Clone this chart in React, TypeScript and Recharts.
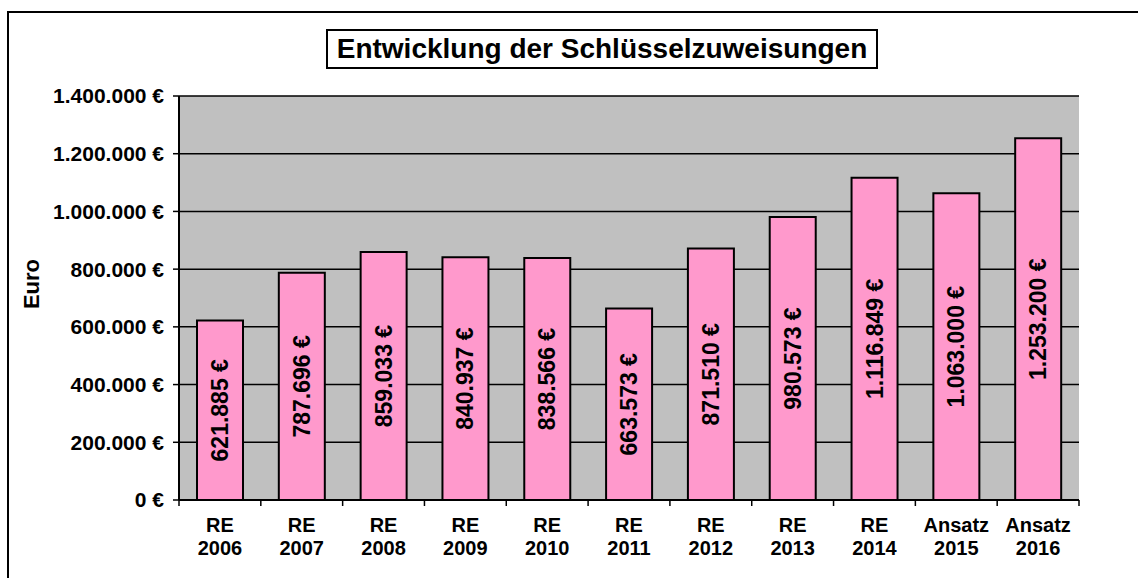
import React from "react";
import { BarChart, Bar, XAxis, YAxis, CartesianGrid, LabelList } from "recharts";

const categories = ["RE 2006", "RE 2007", "RE 2008", "RE 2009", "RE 2010", "RE 2011", "RE 2012", "RE 2013", "RE 2014", "Ansatz 2015", "Ansatz 2016"];
const values = [621885, 787696, 859033, 840937, 838566, 663573, 871510, 980573, 1116849, 1063000, 1253200];
const yTicks = [0, 200000, 400000, 600000, 800000, 1000000, 1200000, 1400000];

const data = categories.map((c, i) => ({ name: c, value: values[i] }));

const FONT = "Arial, 'Liberation Sans', sans-serif";

// 1253200 -> "1.253.200 €"
const euro = (v: number) => String(Math.round(v)).replace(/\B(?=(\d{3})+(?!\d))/g, ".") + " €";

const XTick = (props: any) => {
  const { x, y, payload, index } = props;
  const half = payload?.offset || 900 / 22;
  const [l1, l2] = String(payload.value).split(" ");
  const last = index === categories.length - 1;
  return (
    <g>
      <line x1={x - half} x2={x - half} y1={y} y2={y + 6} stroke="#000" strokeWidth={1.5} />
      {last && <line x1={x + half} x2={x + half} y1={y} y2={y + 6} stroke="#000" strokeWidth={1.5} />}
      <text x={x} y={y + 32} textAnchor="middle" fontFamily={FONT} fontWeight="bold" fontSize={20} fill="#000">{l1}</text>
      <text x={x} y={y + 55} textAnchor="middle" fontFamily={FONT} fontWeight="bold" fontSize={20} fill="#000">{l2}</text>
    </g>
  );
};

// rotated value label in the middle of each bar
const ValueLabel = (props: any) => {
  const { x, y, width, height, value } = props;
  const cx = Number(x) + Number(width) / 2;
  const cy = Number(y) + Number(height) / 2;
  return (
    <text x={cx} y={cy} transform={`rotate(-90 ${cx} ${cy})`} textAnchor="middle" dominantBaseline="central"
      fontFamily={FONT} fontWeight="bold" fontSize={23} fill="#000">{euro(Number(value))}</text>
  );
};

export default function App() {
  return (
    <div style={{ position: "absolute", left: 0, top: 0, width: 1138, height: 578, overflow: "hidden", background: "#fff" }}>
      <div style={{ position: "absolute", left: 7, top: 11, width: 1131, height: 2, background: "#000" }} />
      <div style={{ position: "absolute", left: 7, top: 11, width: 2, height: 567, background: "#000" }} />
      <div style={{
        position: "absolute", left: 326, top: 29, width: 552, height: 40, border: "2px solid #000", boxSizing: "border-box",
        textAlign: "center", lineHeight: "36px", fontFamily: FONT, fontWeight: "bold", fontSize: 28, color: "#000", background: "#fff",
        whiteSpace: "nowrap",
      }}>
        Entwicklung der Schlüsselzuweisungen
      </div>
      <BarChart width={1138} height={578} data={data} margin={{ top: 96, right: 59, left: 0, bottom: 18 }} barCategoryGap="22%">
        <CartesianGrid horizontal vertical={false} stroke="#000" strokeWidth={1.5} fill="#C0C0C0" fillOpacity={1} />
        <XAxis xAxisId="top" orientation="top" dataKey="name" height={0} tick={false} tickLine={false} axisLine={{ stroke: "#808080", strokeWidth: 2 }} />
        <YAxis yAxisId="right" orientation="right" width={0} domain={[0, 1400000]} tick={false} tickLine={false} axisLine={{ stroke: "#808080", strokeWidth: 2 }} />
        <XAxis dataKey="name" height={60} interval={0} tickSize={0} tickMargin={0} tick={<XTick />} tickLine={false} axisLine={{ stroke: "#000", strokeWidth: 2 }} />
        <YAxis
          width={179}
          domain={[0, 1400000]}
          ticks={yTicks}
          interval={0}
          tickFormatter={euro}
          tickSize={6}
          tickMargin={9}
          tick={{ fill: "#000", fontSize: 21, fontWeight: "bold", fontFamily: FONT }}
          tickLine={{ stroke: "#000", strokeWidth: 1.5 }}
          axisLine={{ stroke: "#000", strokeWidth: 2 }}
          label={{
            content: () => (
              <text x={31} y={284} transform="rotate(-90 31 284)" textAnchor="middle" dominantBaseline="central"
                fontFamily={FONT} fontWeight="bold" fontSize={22} fill="#000">Euro</text>
            ),
          }}
        />
        <Bar dataKey="value" xAxisId={0} fill="#FF99CC" stroke="#000" strokeWidth={2} isAnimationActive={false}>
          <LabelList dataKey="value" content={<ValueLabel />} />
        </Bar>
      </BarChart>
    </div>
  );
}
